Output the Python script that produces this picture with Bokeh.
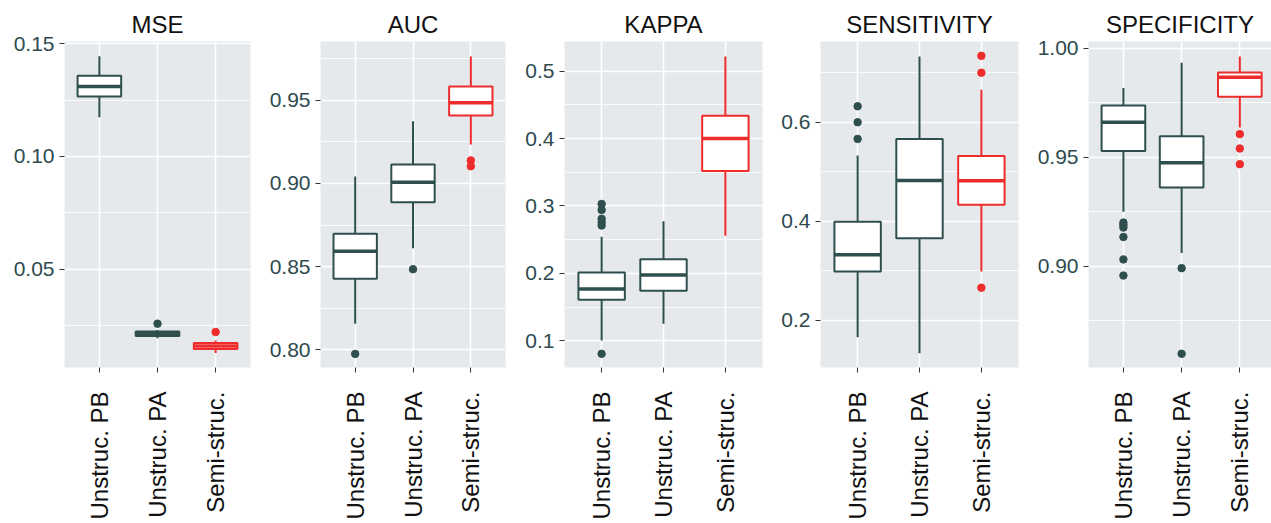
from bokeh.plotting import figure
from bokeh.layouts import row
from bokeh.models import ColumnDataSource, Range1d, FixedTicker
from bokeh.embed import file_html
from bokeh.resources import INLINE

groups = ["Unstruc. PB", "Unstruc. PA", "Semi-struc."]
group_colors = ["#2F4F4F", "#2F4F4F", "#EE2C2C"]
metrics = ["MSE", "AUC", "KAPPA", "SENSITIVITY", "SPECIFICITY"]

mse_q1 = [0.1265, 0.0205, 0.0148]
mse_med = [0.1310, 0.0215, 0.0161]
mse_q3 = [0.1357, 0.0225, 0.0174]
mse_lo = [0.1174, 0.0196, 0.0130]
mse_hi = [0.1444, 0.0232, 0.0186]
mse_out = [[], [0.0260], [0.0223]]

auc_q1 = [0.8426, 0.8887, 0.9410]
auc_med = [0.8592, 0.9008, 0.9486]
auc_q3 = [0.8697, 0.9114, 0.9584]
auc_lo = [0.8155, 0.8610, 0.9235]
auc_hi = [0.9042, 0.9375, 0.9765]
auc_out = [[0.7974], [0.8484], [0.9139, 0.9104]]

kappa_q1 = [0.161, 0.1743, 0.352]
kappa_med = [0.1768, 0.1976, 0.400]
kappa_q3 = [0.2015, 0.2208, 0.4337]
kappa_lo = [0.1004, 0.1252, 0.256]
kappa_hi = [0.2545, 0.2772, 0.5218]
kappa_out = [[0.0807, 0.303, 0.294, 0.281, 0.276, 0.271], [], []]

sens_q1 = [0.2990, 0.3657, 0.4337]
sens_med = [0.3327, 0.4822, 0.4820]
sens_q3 = [0.3994, 0.5664, 0.5320]
sens_lo = [0.1663, 0.1340, 0.2990]
sens_hi = [0.5327, 0.7327, 0.6655]
sens_out = [[0.6323, 0.600, 0.5664], [], [0.734, 0.700, 0.266]]

spec_q1 = [0.9529, 0.9361, 0.9777]
spec_med = [0.9660, 0.9475, 0.9867]
spec_q3 = [0.9737, 0.9596, 0.9889]
spec_lo = [0.9250, 0.9061, 0.9636]
spec_hi = [0.9818, 0.9933, 0.9962]
spec_out = [[0.9200, 0.9189, 0.9177, 0.9134, 0.9031, 0.8957], [0.8991, 0.8598], [0.9606, 0.9540, 0.9468]]

y_ticks = [
    [0.05, 0.10, 0.15],
    [0.80, 0.85, 0.90, 0.95],
    [0.1, 0.2, 0.3, 0.4, 0.5],
    [0.2, 0.4, 0.6],
    [0.90, 0.95, 1.00],
]
y_tick_labels = [
    ["0.05", "0.10", "0.15"],
    ["0.80", "0.85", "0.90", "0.95"],
    ["0.1", "0.2", "0.3", "0.4", "0.5"],
    ["0.2", "0.4", "0.6"],
    ["0.90", "0.95", "1.00"],
]
y_minor = [
    [0.025, 0.075, 0.125],
    [0.825, 0.875, 0.925, 0.975],
    [0.15, 0.25, 0.35, 0.45],
    [0.3, 0.5, 0.7],
    [0.875, 0.925, 0.975],
]
y_limits = [
    (0.0066, 0.1509),
    (0.7892, 0.9855),
    (0.0604, 0.5440),
    (0.1050, 0.7630),
    (0.8535, 1.0031),
]

data = [
    (mse_q1, mse_med, mse_q3, mse_lo, mse_hi, mse_out),
    (auc_q1, auc_med, auc_q3, auc_lo, auc_hi, auc_out),
    (kappa_q1, kappa_med, kappa_q3, kappa_lo, kappa_hi, kappa_out),
    (sens_q1, sens_med, sens_q3, sens_lo, sens_hi, sens_out),
    (spec_q1, spec_med, spec_q3, spec_lo, spec_hi, spec_out),
]

# layout: (fig width, border left, border right, x range end)
layout = [
    (260, 64, 10, 3.6),
    (252, 60, 7, 3.6),
    (258, 52, 8, 3.6),
    (255, 50, 7, 3.6),
    (246, 63, 0, 3.544),
]

FONT = "Liberation Sans"
BG = "#E5E9EC"
TICK_TXT = "#2E4A4F"

figs = []
for i, name in enumerate(metrics):
    q1, med, q3, lo, hi, outs = data[i]
    w, bl, br, xend = layout[i]
    xs = [j + 1 for j in range(len(groups))]
    p = figure(width=w, height=523, output_backend="svg", toolbar_location=None,
               x_range=Range1d(0.4, xend), y_range=Range1d(*y_limits[i]),
               min_border_left=bl, min_border_right=br, min_border_top=41,
               min_border_bottom=156, background_fill_color=BG,
               border_fill_color="white", outline_line_color=None)
    p.title.text = name
    p.title.align = "center"
    p.title.text_font = FONT
    p.title.text_font_size = "24px"
    p.title.text_font_style = "normal"
    p.title.text_color = "#111111"
    p.title.standoff = 7

    src = ColumnDataSource(dict(x=xs, q1=q1, med=med, q3=q3, lo=lo, hi=hi,
                                color=group_colors, g=groups))
    p.segment(x0="x", x1="x", y0="q3", y1="hi", line_color="color", line_width=2, source=src)
    p.segment(x0="x", x1="x", y0="lo", y1="q1", line_color="color", line_width=2, source=src)
    p.vbar(x="x", width=0.75, top="q3", bottom="q1", fill_color="white",
           line_color="color", line_width=2, source=src)
    src_m = ColumnDataSource(dict(x0=[x - 0.375 for x in xs], x1=[x + 0.375 for x in xs],
                                  med=med, color=group_colors))
    p.segment(x0="x0", x1="x1", y0="med", y1="med", line_color="color", line_width=3.5, source=src_m)

    ox, oy, oc = [], [], []
    for j, vals in enumerate(outs):
        for v in vals:
            ox.append(xs[j]); oy.append(v); oc.append(group_colors[j])
    p.scatter(x=ox, y=oy, size=7.5, color=oc)

    # axes
    p.xaxis.ticker = FixedTicker(ticks=xs)
    p.xaxis.major_label_overrides = {x: g for x, g in zip(xs, groups)}
    p.xaxis.major_label_orientation = 1.5707963
    p.xaxis.major_label_text_font = FONT
    p.xaxis.major_label_text_font_size = "24px"
    p.xaxis.major_label_text_color = "#111111"
    p.xaxis.major_label_standoff = 19
    p.yaxis.ticker = FixedTicker(ticks=y_ticks[i], minor_ticks=y_minor[i])
    p.yaxis.major_label_overrides = {t: l for t, l in zip(y_ticks[i], y_tick_labels[i])}
    p.yaxis.major_label_text_font = FONT
    p.yaxis.major_label_text_font_size = "21px"
    p.yaxis.major_label_text_color = TICK_TXT
    p.yaxis.major_label_standoff = 5
    for ax in (p.xaxis, p.yaxis):
        ax.axis_line_color = None
        ax.major_tick_line_color = "#333333"
        ax.major_tick_out = 5
        ax.major_tick_in = 0
        ax.minor_tick_out = 0
        ax.minor_tick_in = 0
        ax.minor_tick_line_color = None

    p.xgrid.ticker = FixedTicker(ticks=xs)
    p.xgrid.grid_line_color = "white"
    p.xgrid.grid_line_width = 1.6
    p.ygrid.ticker = FixedTicker(ticks=y_ticks[i], minor_ticks=y_minor[i])
    p.ygrid.grid_line_color = "white"
    p.ygrid.grid_line_width = 1.6
    p.ygrid.minor_grid_line_color = "white"
    p.ygrid.minor_grid_line_width = 0.8
    figs.append(p)

layout_row = row(*figs, spacing=0)
open("out.html", "w").write(file_html(layout_row, INLINE))
